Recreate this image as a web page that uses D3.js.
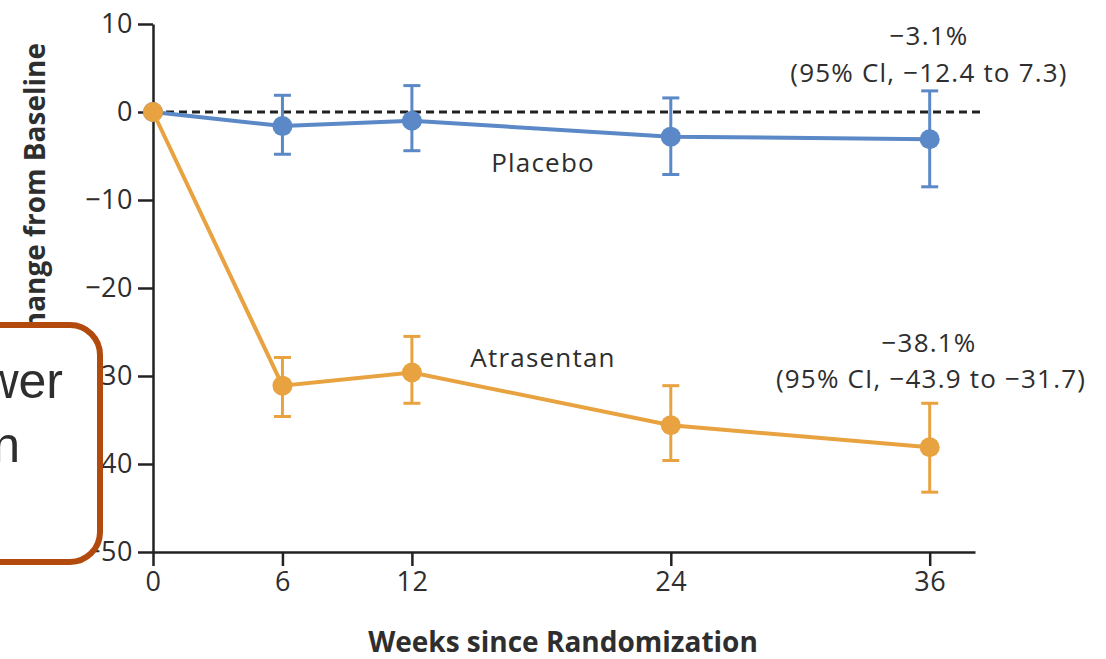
<!DOCTYPE html>
<html>
<head>
<meta charset="utf-8">
<script src="https://cdn.jsdelivr.net/npm/d3@7"></script>
<style>
  html, body { margin: 0; padding: 0; background: #fff; }
  svg { display: block; }
  text { font-family: "Open Sans", "DejaVu Sans", sans-serif; fill: #2e2e2e; }
</style>
</head>
<body>
<figure id="chart" style="margin:0"></figure>
<script>
// data
const weeks = [0, 6, 12, 24, 36];
const xTicks = [0, 6, 12, 24, 36];
const yTicks = [10, 0, -10, -20, -30, -40, -50];

const placeboMean  = [0, -1.6, -1.0, -2.8, -3.1];
const placeboUpper = [0, 1.9, 3.0, 1.6, 2.4];
const placeboLower = [0, -4.8, -4.4, -7.1, -8.5];

const atrasentanMean  = [0, -31.1, -29.6, -35.6, -38.1];
const atrasentanUpper = [0, -27.9, -25.5, -31.1, -33.1];
const atrasentanLower = [0, -34.6, -33.1, -39.6, -43.2];

const width = 1106;
const height = 659;

const svg = d3.select("figure#chart")
  .append("svg")
  .attr("width", width)
  .attr("height", height);

// scales
const x = d3.scaleLinear().domain([0, 38.1]).range([153, 975]);
const y = d3.scaleLinear().domain([-50, 10]).range([552, 24]);

// y axis
const yAxis = svg.append("g")
  .attr("transform", "translate(" + x(0) + ",0)")
  .call(d3.axisLeft(y).tickValues(yTicks).tickSize(15).tickSizeOuter(0).tickPadding(5));

// x axis
const xAxis = svg.append("g")
  .attr("transform", "translate(0," + y(-50) + ")")
  .call(d3.axisBottom(x).tickValues(xTicks).tickSize(14).tickSizeOuter(0).tickPadding(6));

[yAxis, xAxis].forEach(g => {
  g.selectAll("path, line").attr("stroke", "#222").attr("stroke-width", 2.5);
  g.selectAll("text").attr("font-size", 27).attr("fill", "#2e2e2e")
    .attr("letter-spacing", 0.5)
    .style("font-family", "'Open Sans', sans-serif");
});

// zero reference line
svg.append("line")
  .attr("x1", x(0)).attr("x2", 985)
  .attr("y1", y(0)).attr("y2", y(0))
  .attr("stroke", "#222")
  .attr("stroke-width", 2.8)
  .attr("stroke-dasharray", "8,5");

function drawSeries(mean, lower, upper, color) {
  const g = svg.append("g");
  const rows = weeks.map((w, i) => ({ w: w, m: mean[i], lo: lower[i], hi: upper[i] }));

  // error bars
  const eb = g.selectAll(".eb")
    .data(rows.filter(d => d.w !== 0))
    .enter().append("g");
  eb.append("line")
    .attr("x1", d => x(d.w)).attr("x2", d => x(d.w))
    .attr("y1", d => y(d.hi)).attr("y2", d => y(d.lo))
    .attr("stroke", color).attr("stroke-width", 3);
  eb.append("line")
    .attr("x1", d => x(d.w) - 8.5).attr("x2", d => x(d.w) + 8.5)
    .attr("y1", d => y(d.hi)).attr("y2", d => y(d.hi))
    .attr("stroke", color).attr("stroke-width", 3);
  eb.append("line")
    .attr("x1", d => x(d.w) - 8.5).attr("x2", d => x(d.w) + 8.5)
    .attr("y1", d => y(d.lo)).attr("y2", d => y(d.lo))
    .attr("stroke", color).attr("stroke-width", 3);

  // line
  g.append("path")
    .datum(rows)
    .attr("fill", "none")
    .attr("stroke", color)
    .attr("stroke-width", 4)
    .attr("d", d3.line().x(d => x(d.w)).y(d => y(d.m)));

  // points
  g.selectAll("circle")
    .data(rows)
    .enter().append("circle")
    .attr("cx", d => x(d.w))
    .attr("cy", d => y(d.m))
    .attr("r", 10)
    .attr("fill", color);
}

drawSeries(placeboMean, placeboLower, placeboUpper, "#5b88c6");
drawSeries(atrasentanMean, atrasentanLower, atrasentanUpper, "#e8a23f");

// series labels
svg.append("text").attr("x", 543).attr("y", 172)
  .attr("text-anchor", "middle").attr("font-size", 26).attr("letter-spacing", 1.2)
  .text("Placebo");
svg.append("text").attr("x", 543).attr("y", 367)
  .attr("text-anchor", "middle").attr("font-size", 26).attr("letter-spacing", 1.2)
  .text("Atrasentan");

// end annotations
const notes = [
  { t: "\u22123.1%", x: 929, y: 45 },
  { t: "(95% Cl, \u221212.4 to 7.3)", x: 929, y: 82 },
  { t: "\u221238.1%", x: 929, y: 352 },
  { t: "(95% CI, \u221243.9 to \u221231.7)", x: 931, y: 388 }
];
svg.selectAll(".note")
  .data(notes)
  .enter().append("text")
  .attr("x", d => d.x).attr("y", d => d.y)
  .attr("text-anchor", "middle")
  .attr("font-size", 26)
  .attr("letter-spacing", 1.2)
  .text(d => d.t);

// axis titles
svg.append("text")
  .attr("x", 563).attr("y", 652)
  .attr("text-anchor", "middle")
  .attr("font-size", 28).attr("font-weight", 700)
  .attr("fill", "#222")
  .text("Weeks since Randomization");

svg.append("text")
  .attr("transform", "translate(45,43) rotate(-90)")
  .attr("text-anchor", "end")
  .attr("font-size", 28).attr("font-weight", 700)
  .attr("fill", "#222")
  .text("Percent Change from Baseline");

// overlay callout box
svg.append("rect")
  .attr("x", -40).attr("y", 325)
  .attr("width", 140).attr("height", 237)
  .attr("rx", 30).attr("ry", 30)
  .attr("fill", "#fff")
  .attr("stroke", "#b14a0c")
  .attr("stroke-width", 6);

svg.append("text")
  .attr("x", 63).attr("y", 398)
  .attr("text-anchor", "end")
  .attr("font-size", 50)
  .style("font-family", "'Liberation Sans', Arial, sans-serif")
  .attr("fill", "#000")
  .text("wer");
svg.append("text")
  .attr("x", 20).attr("y", 462)
  .attr("text-anchor", "end")
  .attr("font-size", 50)
  .style("font-family", "'Liberation Sans', Arial, sans-serif")
  .attr("fill", "#000")
  .text("n");
</script>
</body>
</html>
